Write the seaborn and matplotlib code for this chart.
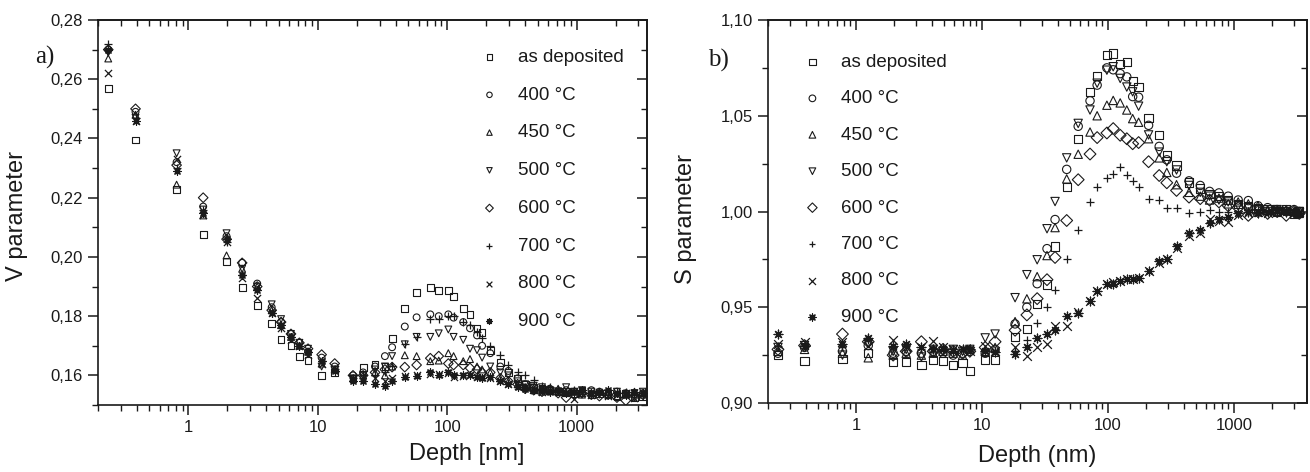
import numpy as np
import pandas as pd
import matplotlib
matplotlib.use("Agg")
import matplotlib.pyplot as plt
import seaborn as sns
from matplotlib.ticker import FuncFormatter, MultipleLocator, LogLocator, FixedLocator

# series names / markers
labels = ["as deposited", "400 °C", "450 °C", "500 °C", "600 °C", "700 °C", "800 °C", "900 °C"]
markers = ["s", "o", "^", "v", "D", "+", "x", (8, 2, 0)]

# ---- panel a) V parameter ----
depth_a = [0.24, 0.39, 0.81, 1.3, 1.97, 2.6, 3.4, 4.4, 5.2, 6.2,
           7.2, 8.4, 10.7, 13.5, 18.7, 22.4, 27.7, 33, 37.5, 47,
           58, 74, 86, 102, 112, 133, 150, 170, 186, 215,
           257, 297, 350, 400, 466, 540, 620, 720, 830, 960,
           1100, 1300, 1500, 1750, 2050, 2400, 2800, 3250]

v_dep = [0.257, 0.2395, 0.2227, 0.2075, 0.1985, 0.1897, 0.1836, 0.1776, 0.1722, 0.170,
         0.1665, 0.165, 0.160, 0.161, 0.159, 0.1627, 0.1638, 0.163, 0.1725, 0.1826,
         0.188, 0.1897, 0.1887, 0.1887, 0.1866, 0.1826, 0.1806, 0.176, 0.1745, 0.1685,
         0.1644, 0.161, 0.159, 0.157, 0.156, 0.1555, 0.155, 0.1545, 0.1545, 0.154,
         0.155, 0.1535, 0.154, 0.1535, 0.153, 0.154, 0.1525, 0.153]
v_400 = [0.270, 0.249, 0.232, 0.217, 0.207, 0.198, 0.191, 0.183, 0.178, 0.174,
         0.171, 0.168, 0.166, 0.163, 0.160, 0.161, 0.163, 0.1665, 0.1695, 0.1765,
         0.1796, 0.1806, 0.180, 0.1806, 0.1795, 0.178, 0.1759, 0.1735, 0.170, 0.1675,
         0.163, 0.1615, 0.159, 0.157, 0.156, 0.155, 0.1555, 0.1545, 0.155, 0.1545,
         0.154, 0.155, 0.1545, 0.1535, 0.1545, 0.154, 0.1535, 0.154]
v_450 = [0.267, 0.248, 0.2244, 0.214, 0.2005, 0.196, 0.190, 0.182, 0.177, 0.173,
         0.170, 0.168, 0.164, 0.162, 0.159, 0.160, 0.161, 0.160, 0.163, 0.1668,
         0.1665, 0.1648, 0.165, 0.1675, 0.1665, 0.1648, 0.1655, 0.163, 0.162, 0.161,
         0.159, 0.158, 0.157, 0.156, 0.155, 0.1545, 0.155, 0.1555, 0.154, 0.1545,
         0.1535, 0.154, 0.1545, 0.1535, 0.153, 0.1535, 0.1545, 0.1535]
v_500 = [0.269, 0.247, 0.235, 0.216, 0.208, 0.196, 0.190, 0.184, 0.179, 0.174,
         0.171, 0.169, 0.163, 0.162, 0.159, 0.160, 0.162, 0.163, 0.1665, 0.1705,
         0.173, 0.173, 0.1742, 0.1755, 0.173, 0.172, 0.169, 0.1685, 0.166, 0.163,
         0.161, 0.160, 0.158, 0.157, 0.1565, 0.156, 0.155, 0.1545, 0.156, 0.1545,
         0.155, 0.1545, 0.1535, 0.154, 0.1545, 0.1535, 0.154, 0.1545]
v_600 = [0.270, 0.250, 0.231, 0.220, 0.206, 0.198, 0.190, 0.182, 0.178, 0.174,
         0.171, 0.169, 0.167, 0.164, 0.160, 0.160, 0.161, 0.162, 0.1628, 0.1628,
         0.1635, 0.1658, 0.1665, 0.164, 0.1635, 0.1635, 0.1625, 0.162, 0.161, 0.161,
         0.159, 0.158, 0.157, 0.1555, 0.155, 0.1545, 0.155, 0.154, 0.1525, 0.1535,
         0.154, 0.1535, 0.153, 0.1535, 0.1525, 0.1515, 0.153, 0.1535]
v_700 = [0.272, 0.247, 0.230, 0.216, 0.205, 0.194, 0.189, 0.181, 0.176, 0.173,
         0.170, 0.168, 0.165, 0.162, 0.159, 0.160, 0.160, 0.161, 0.163, 0.1705,
         0.173, 0.179, 0.179, 0.180, 0.180, 0.178, 0.177, 0.1745, 0.1725, 0.170,
         0.167, 0.1635, 0.161, 0.160, 0.1585, 0.1565, 0.156, 0.155, 0.1545, 0.155,
         0.1545, 0.154, 0.1545, 0.1535, 0.154, 0.1545, 0.1535, 0.153]
v_800 = [0.262, 0.246, 0.233, 0.214, 0.205, 0.193, 0.186, 0.181, 0.176, 0.172,
         0.170, 0.167, 0.164, 0.162, 0.159, 0.159, 0.159, 0.158, 0.159, 0.1598,
         0.160, 0.1605, 0.1603, 0.1608, 0.1594, 0.1598, 0.160, 0.1595, 0.1595, 0.159,
         0.158, 0.157, 0.1565, 0.156, 0.155, 0.1545, 0.155, 0.1545, 0.1545, 0.152,
         0.154, 0.1535, 0.1545, 0.153, 0.1535, 0.154, 0.1525, 0.154]
v_900 = [0.270, 0.246, 0.229, 0.215, 0.206, 0.194, 0.189, 0.181, 0.177, 0.173,
         0.170, 0.168, 0.165, 0.1615, 0.158, 0.158, 0.157, 0.1563, 0.158, 0.1594,
         0.1598, 0.161, 0.160, 0.161, 0.160, 0.160, 0.160, 0.1595, 0.159, 0.1594,
         0.158, 0.157, 0.156, 0.1555, 0.155, 0.155, 0.1545, 0.155, 0.154, 0.1545,
         0.155, 0.154, 0.1545, 0.155, 0.154, 0.1535, 0.1545, 0.154]

# ---- panel b) S parameter ----
depth_b = [0.24, 0.39, 0.78, 1.25, 1.97, 2.5, 3.3, 4.1, 4.9, 5.9,
           7.0, 8.0, 10.6, 12.7, 18.3, 22.7, 27.4, 32.8, 38, 47,
           58, 72, 82, 98, 110, 125, 141, 157, 175, 210,
           255, 293, 350, 440, 540, 640, 760, 900, 1080, 1300,
           1550, 1850, 2200, 2600, 3000, 3300]

s_dep = [0.925, 0.922, 0.923, 0.926, 0.9215, 0.9215, 0.920, 0.9225, 0.922, 0.920,
         0.921, 0.9167, 0.9223, 0.9223, 0.9345, 0.9387, 0.9518, 0.9618, 0.9817, 1.0127,
         1.0377, 1.0625, 1.0707, 1.0817, 1.0825, 1.077, 1.078, 1.068, 1.065, 1.0487,
         1.040, 1.0293, 1.024, 1.0152, 1.012, 1.009, 1.008, 1.006, 1.004, 1.003,
         1.002, 1.001, 1.000, 1.001, 0.999, 1.000]
s_400 = [0.926, 0.929, 0.927, 0.930, 0.926, 0.927, 0.926, 0.927, 0.926, 0.925,
         0.926, 0.927, 0.926, 0.928, 0.9413, 0.950, 0.9623, 0.9806, 0.9958, 1.022,
         1.0445, 1.0578, 1.066, 1.075, 1.074, 1.072, 1.0703, 1.060, 1.0597, 1.045,
         1.034, 1.027, 1.020, 1.016, 1.0136, 1.0105, 1.0097, 1.008, 1.006, 1.0057,
         1.003, 1.002, 1.001, 1.000, 1.001, 1.000]
s_450 = [0.927, 0.928, 0.926, 0.9236, 0.925, 0.926, 0.925, 0.926, 0.927, 0.926,
         0.925, 0.928, 0.927, 0.929, 0.9425, 0.9544, 0.966, 0.977, 0.9916, 1.017,
         1.0299, 1.0415, 1.050, 1.0555, 1.058, 1.0567, 1.053, 1.0485, 1.0466, 1.038,
         1.028, 1.0204, 1.014, 1.010, 1.008, 1.006, 1.007, 1.004, 1.005, 1.004,
         1.003, 1.001, 1.000, 1.001, 1.000, 0.999]
s_500 = [0.929, 0.930, 0.925, 0.931, 0.927, 0.928, 0.924, 0.928, 0.927, 0.928,
         0.927, 0.928, 0.934, 0.936, 0.955, 0.967, 0.9748, 0.991, 1.0052, 1.028,
         1.046, 1.053, 1.067, 1.0738, 1.0756, 1.0695, 1.065, 1.0625, 1.055, 1.040,
         1.031, 1.026, 1.0217, 1.0136, 1.010, 1.008, 1.006, 1.005, 1.003, 1.002,
         1.001, 1.000, 1.001, 1.000, 0.999, 1.000]
s_600 = [0.928, 0.930, 0.936, 0.932, 0.925, 0.927, 0.932, 0.927, 0.928, 0.927,
         0.926, 0.927, 0.929, 0.932, 0.938, 0.946, 0.9545, 0.9644, 0.976, 0.9953,
         1.0166, 1.030, 1.0386, 1.041, 1.0433, 1.0398, 1.038, 1.0354, 1.036, 1.026,
         1.0188, 1.015, 1.011, 1.0075, 1.0067, 1.006, 1.005, 1.003, 1.002, 0.998,
         1.000, 0.999, 1.000, 0.998, 1.000, 0.999]
s_700 = [0.930, 0.931, 0.929, 0.933, 0.929, 0.930, 0.928, 0.928, 0.929, 0.928,
         0.928, 0.928, 0.928, 0.9265, 0.927, 0.933, 0.942, 0.950, 0.959, 0.975,
         0.9906, 1.0047, 1.0126, 1.0176, 1.0194, 1.0232, 1.019, 1.016, 1.0126, 1.0063,
         1.006, 1.002, 1.002, 0.999, 1.000, 1.001, 1.000, 1.000, 0.999, 1.000,
         1.001, 1.000, 0.999, 1.000, 1.000, 0.999]
s_800 = [0.931, 0.932, 0.932, 0.930, 0.933, 0.929, 0.929, 0.9325, 0.929, 0.928,
         0.928, 0.927, 0.930, 0.927, 0.929, 0.9246, 0.929, 0.931, 0.940, 0.940,
         0.9475, 0.9534, 0.9586, 0.962, 0.963, 0.9635, 0.9645, 0.965, 0.9654, 0.969,
         0.9733, 0.975, 0.981, 0.9874, 0.989, 0.9963, 0.995, 0.9943, 0.998, 0.999,
         1.000, 0.999, 1.000, 1.001, 0.999, 1.000]
s_900 = [0.936, 0.930, 0.931, 0.934, 0.930, 0.931, 0.929, 0.928, 0.928, 0.927,
         0.928, 0.928, 0.927, 0.9265, 0.9256, 0.929, 0.934, 0.936, 0.938, 0.9455,
         0.947, 0.9534, 0.9586, 0.962, 0.962, 0.9635, 0.9645, 0.965, 0.9654, 0.969,
         0.9743, 0.975, 0.982, 0.989, 0.9905, 0.994, 0.996, 0.997, 0.999, 1.000,
         0.999, 1.000, 1.001, 1.000, 1.000, 0.999]


def long_table(depth, series):
    rows = []
    for lab, vals in zip(labels, series):
        rows.append(pd.DataFrame({"depth": depth, "value": vals, "series": lab}))
    return pd.concat(rows, ignore_index=True)


df_a = long_table(depth_a, [v_dep, v_400, v_450, v_500, v_600, v_700, v_800, v_900])
df_b = long_table(depth_b, [s_dep, s_400, s_450, s_500, s_600, s_700, s_800, s_900])

sns.set_theme(style="ticks")
plt.rcParams['font.family'] = ['Liberation Sans', 'DejaVu Sans']
plt.rcParams.update({"text.color": "k", "axes.labelcolor": "k",
                     "xtick.color": "k", "ytick.color": "k", "axes.edgecolor": "k"})

W, H = 1310, 472
fig = plt.figure(figsize=(W / 100, H / 100), dpi=100)
ax_a = fig.add_axes([98 / W, (H - 405) / H, 549 / W, 385 / H])
ax_b = fig.add_axes([768 / W, (H - 403) / H, 539 / W, 383 / H])


def draw(ax, df, size):
    for lab, mk in zip(labels, markers):
        sub = df[df["series"] == lab]
        if mk in ("+", "x") or isinstance(mk, tuple):
            sns.scatterplot(data=sub, x="depth", y="value", marker=mk, s=size * 1.1,
                            color="k", linewidth=0.9, ax=ax, label=lab, legend=False)
        else:
            sns.scatterplot(data=sub, x="depth", y="value", marker=mk, s=size,
                            facecolor="none", edgecolor="k", linewidth=0.8, ax=ax,
                            label=lab, legend=False)


def frame(ax, xlim, ylim, ymaj, ymin):
    ax.set_xscale("log")
    ax.set_xlim(*xlim)
    ax.set_ylim(*ylim)
    ax.xaxis.set_major_locator(FixedLocator([1, 10, 100, 1000]))
    ax.xaxis.set_minor_locator(LogLocator(base=10, subs=np.arange(2, 10) * 1.0, numticks=100))
    ax.xaxis.set_major_formatter(FuncFormatter(lambda v, p: f"{v:g}"))
    ax.yaxis.set_major_locator(MultipleLocator(ymaj))
    ax.yaxis.set_minor_locator(MultipleLocator(ymin))
    ax.yaxis.set_major_formatter(FuncFormatter(lambda v, p: f"{v:.2f}".replace(".", ",")))
    ax.tick_params(which="major", direction="out", length=7, width=1.1, labelsize=12,
                   colors="k", pad=4)
    ax.tick_params(which="minor", direction="out", length=4, width=1.0)
    for sp in ax.spines.values():
        sp.set_visible(True)
        sp.set_linewidth(1.2)
        sp.set_color("k")
    # mirrored inward ticks on top and right
    top = ax.secondary_xaxis("top")
    top.xaxis.set_major_locator(FixedLocator([1, 10, 100, 1000]))
    top.xaxis.set_minor_locator(LogLocator(base=10, subs=np.arange(2, 10) * 1.0, numticks=100))
    top.tick_params(which="major", direction="in", length=7, width=1.1, labeltop=False)
    top.tick_params(which="minor", direction="in", length=4, width=1.0)
    right = ax.secondary_yaxis("right")
    right.yaxis.set_major_locator(MultipleLocator(ymaj))
    right.yaxis.set_minor_locator(MultipleLocator(ymin))
    right.tick_params(which="major", direction="in", length=7, width=1.1, labelright=False)
    right.tick_params(which="minor", direction="in", length=4, width=1.0)


draw(ax_a, df_a, 24)
draw(ax_b, df_b, 36)

frame(ax_a, (0.2, 3500), (0.15, 0.28), 0.02, 0.01)
frame(ax_b, (0.2, 3800), (0.90, 1.10), 0.05, 0.025)

ax_a.set_xlabel("Depth [nm]", fontsize=17)
ax_a.set_ylabel("V parameter", fontsize=17)
ax_a.xaxis.set_label_coords(0.672, -0.098)
ax_a.yaxis.set_label_coords(-0.128, 0.49)

ax_b.set_xlabel("Depth (nm)", fontsize=17)
ax_b.set_ylabel("S parameter", fontsize=17)
ax_b.xaxis.set_label_coords(0.50, -0.11)
ax_b.yaxis.set_label_coords(-0.132, 0.48)

leg_kw = dict(frameon=False, fontsize=13.5, handlelength=1.0, handletextpad=1.0,
              borderpad=0, borderaxespad=0, markerscale=0.8, loc="upper left")
ax_a.legend(bbox_to_anchor=(0.696, 0.925), labelspacing=1.1, **leg_kw)
ax_b.legend(bbox_to_anchor=(0.065, 0.912), labelspacing=1.03, **leg_kw)

fig.text(35 / W, 1 - 57 / H, "a)", family="Liberation Serif", fontsize=18, va="center")
fig.text(708 / W, 1 - 60 / H, "b)", family="Liberation Serif", fontsize=18, va="center")

fig.savefig("out.png", dpi=100)
